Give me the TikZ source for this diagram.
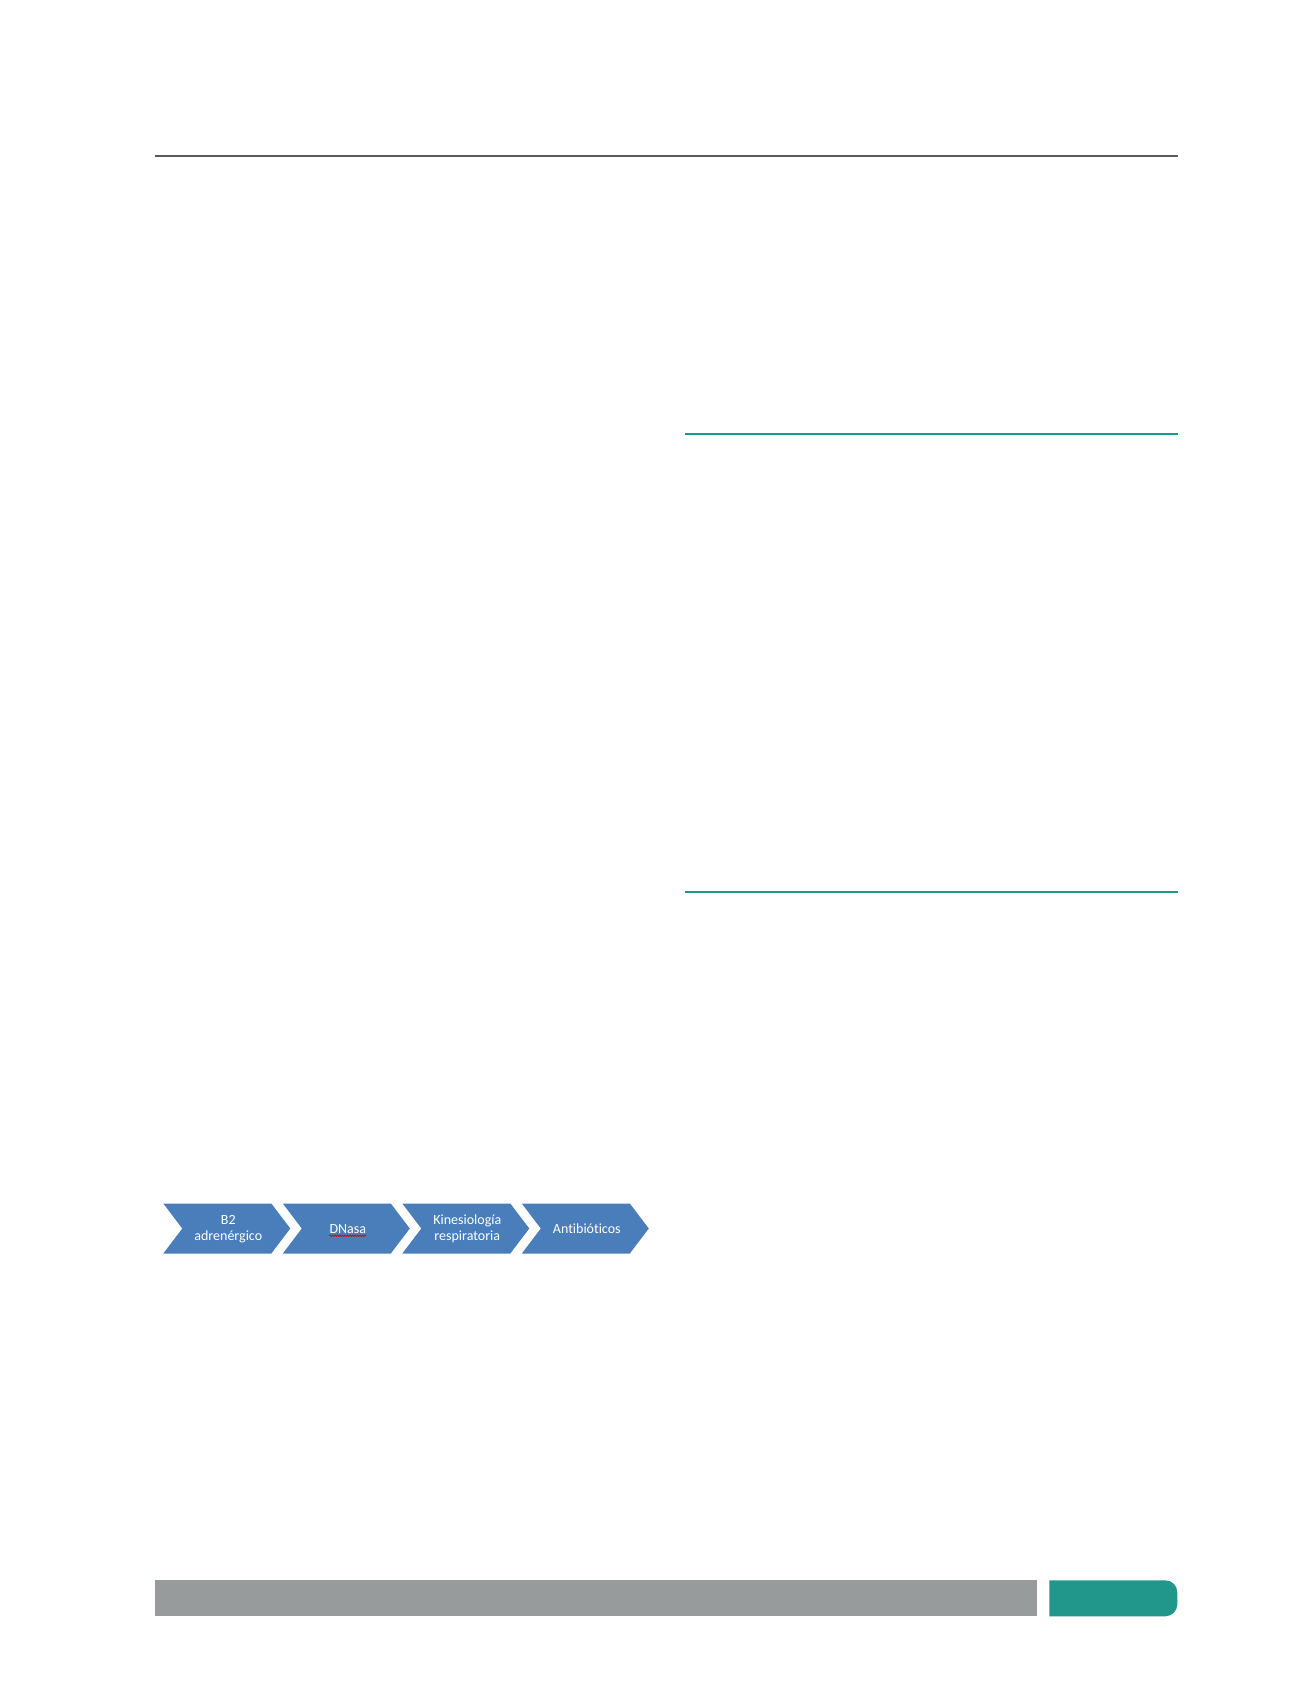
\documentclass[tikz,border=0pt]{standalone}
\usepackage{fontspec}
\newfontfamily\chevfont[Ligatures=NoCommon]{Carlito}
\usetikzlibrary{decorations.pathmorphing}
\definecolor{chevblue}{HTML}{4A7EBB}
\definecolor{bargray}{HTML}{989B9B}
\definecolor{barteal}{HTML}{20978A}
\definecolor{ruledark}{HTML}{5A5A5A}
\tikzset{
  chevron/.style={fill=chevblue, draw=none},
  chevtext/.style={text=white, font=\chevfont\fontsize{14}{15.5}\selectfont, align=center, inner sep=0pt},
  tealrule/.style={draw=barteal, line width=2.2pt},
}
\begin{document}
\begin{tikzpicture}[x=1pt,y=-1pt]
\useasboundingbox (0,0) rectangle (1301,1703);
% top rule
\draw[ruledark, line width=1.5pt] (155.3,156) -- (1178.3,156);
% teal rules in right column
\draw[tealrule] (685.3,433.7) -- (1178.3,433.7);
\draw[tealrule] (685.3,892) -- (1178.3,892);
% chevrons
\foreach \i/\nm/\t in {0/c1/{B2\\adrenérgico},1/c2/{DNasa},2/c3/{Kinesiología\\respiratoria},3/c4/{Antibióticos}}{
  \pgfmathsetmacro{\L}{163.3+119.5*\i}
  \fill[chevron] (\L,1203.5) -- ({\L+108},1203.5) -- ({\L+127},1228.5) -- ({\L+108},1253.5) -- (\L,1253.5) -- ({\L+19},1228.5) -- cycle;
  \node[chevtext] (\nm) at ({\L+65},1229) {\t};
}
% spell-check underline under DNasa
\draw[red!85!black, line width=0.7pt, decorate, decoration={snake, amplitude=0.8pt, segment length=2.5pt}] ([yshift=-2pt]c2.south west) -- ([yshift=-2pt]c2.south east);
% footer bar
\fill[bargray] (155.3,1580.3) rectangle (1036.7,1616.3);
\fill[barteal] (1049.3,1616.3) -- (1049.3,1580.3) [rounded corners=12pt] -- (1177.3,1580.3) -- (1177.3,1616.3) [sharp corners] -- cycle;
\end{tikzpicture}
\end{document}
